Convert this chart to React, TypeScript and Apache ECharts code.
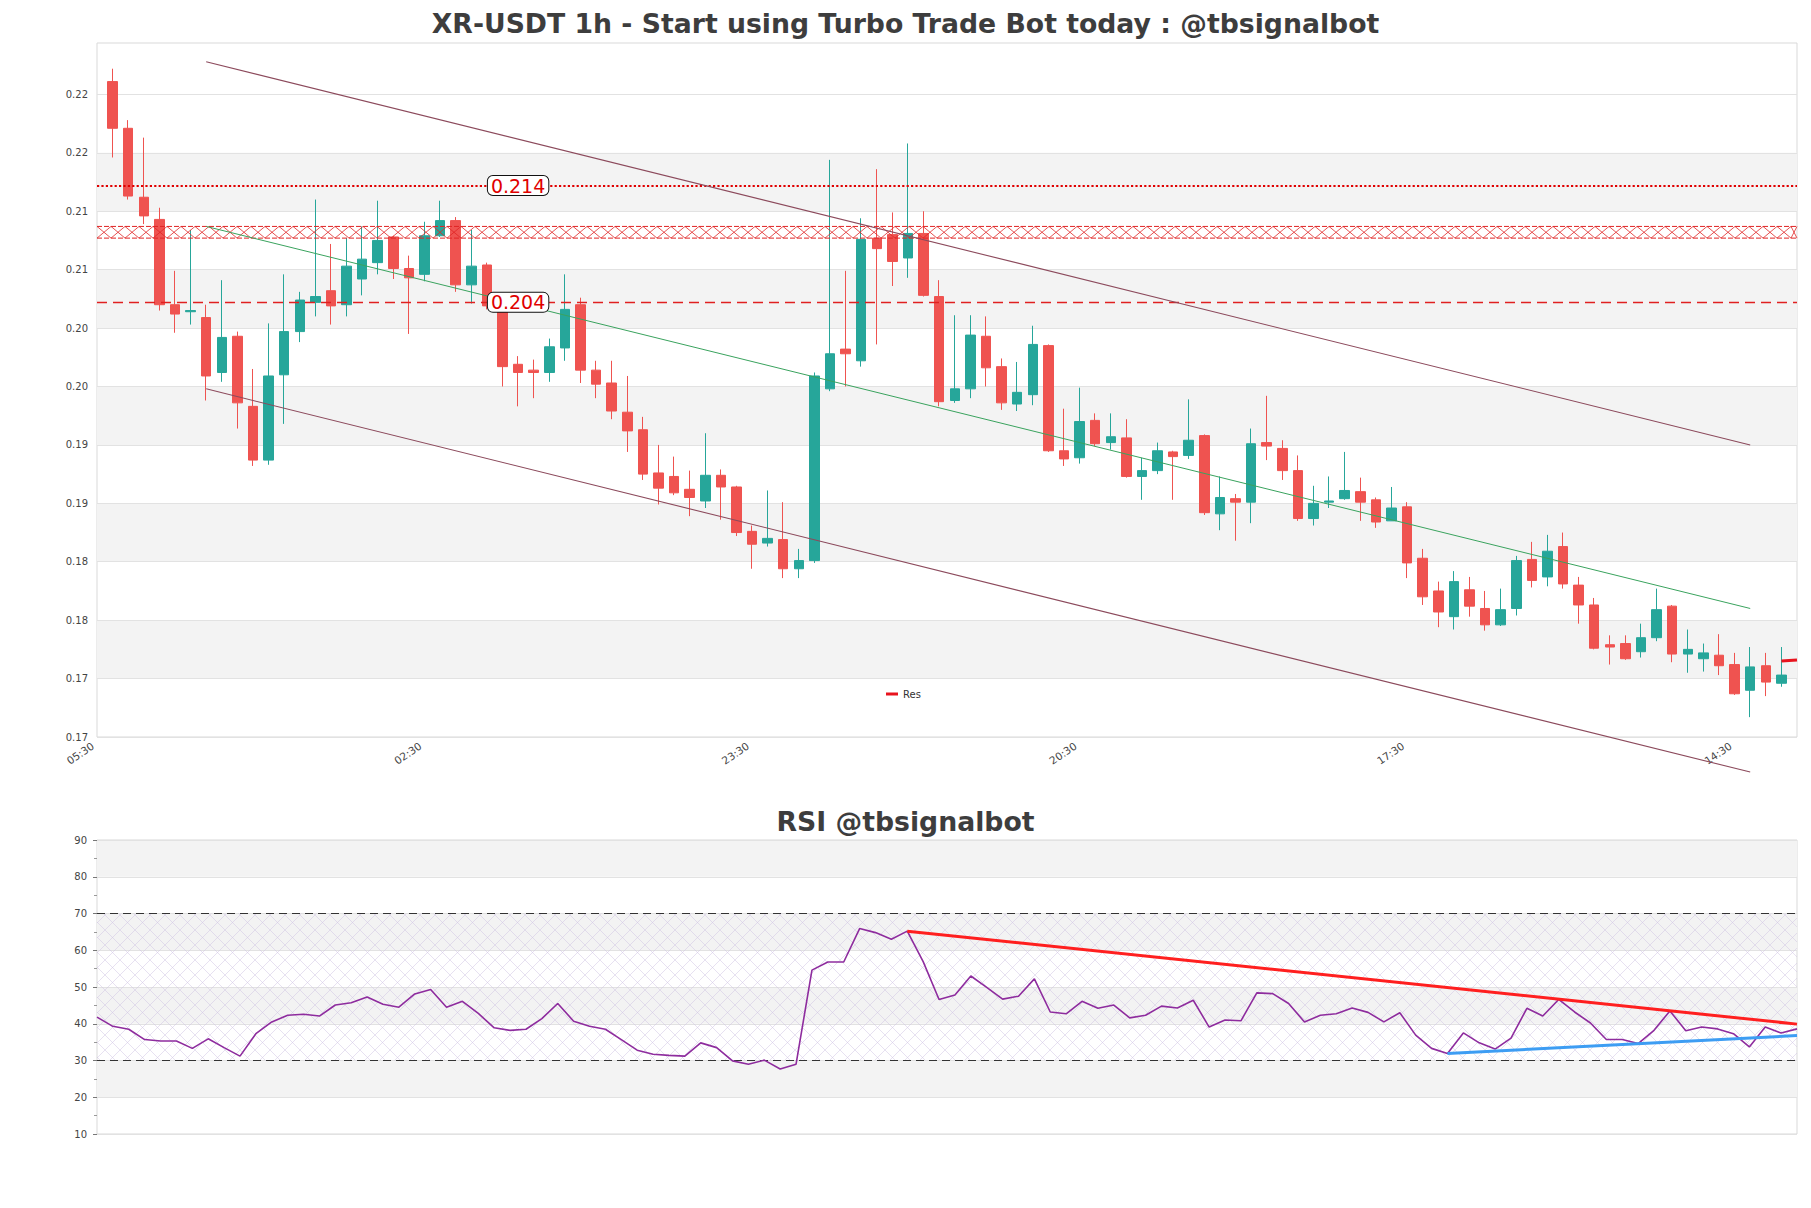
import React, { useEffect, useRef } from "react";
import * as echarts from "echarts";

// ---------- data ----------
const FIRST_HOUR = 5; // first slot is 05:30
const SLOT_COUNT = 110;
const timeLabels = Array.from(
  { length: SLOT_COUNT },
  (_, i) => String((FIRST_HOUR + i) % 24).padStart(2, "0") + ":30"
);
const FIRST_CANDLE_SLOT = 1;

const candleOpen = [
  0.2229, 0.2189, 0.213, 0.2111, 0.2038, 0.2032, 0.2027, 0.198, 0.2011, 0.1951,
  0.1905, 0.1978, 0.2015, 0.204, 0.205, 0.2038, 0.206, 0.2074, 0.2096, 0.2069,
  0.2064, 0.2097, 0.211, 0.2055, 0.2072, 0.2038, 0.1987, 0.1982, 0.198, 0.2001,
  0.2038, 0.1982, 0.1971, 0.1946, 0.1931, 0.1894, 0.1891, 0.188, 0.187, 0.1892,
  0.1882, 0.1844, 0.1834, 0.1837, 0.1812, 0.1819, 0.1966, 0.2, 0.199, 0.2095,
  0.2098, 0.2078, 0.2099, 0.2045, 0.1956, 0.1966, 0.2011, 0.1985, 0.1953, 0.1961,
  0.2003, 0.1913, 0.1907, 0.1939, 0.192, 0.1924, 0.1891, 0.1896, 0.1912, 0.1909,
  0.1926, 0.1859, 0.1872, 0.1869, 0.192, 0.1915, 0.1896, 0.1855, 0.1869, 0.1872,
  0.1878, 0.1871, 0.1853, 0.1865, 0.1821, 0.1793, 0.1771, 0.1794, 0.1778, 0.1764,
  0.1778, 0.182, 0.1805, 0.1831, 0.1798, 0.1781, 0.1747, 0.1748, 0.1741, 0.1753,
  0.178, 0.1739, 0.1735, 0.1738, 0.173, 0.1708, 0.1729, 0.1714,
];
const candleClose = [
  0.2189, 0.2131, 0.2114, 0.2038, 0.203, 0.2033, 0.1977, 0.201, 0.1954, 0.1905,
  0.1977, 0.2015, 0.2042, 0.2045, 0.2037, 0.2071, 0.2077, 0.2093, 0.2069, 0.2061,
  0.2097, 0.211, 0.2055, 0.2071, 0.2037, 0.1985, 0.198, 0.198, 0.2002, 0.2034,
  0.1982, 0.197, 0.1947, 0.193, 0.1893, 0.1881, 0.1877, 0.1873, 0.1892, 0.1882,
  0.1843, 0.1833, 0.1838, 0.1812, 0.1819, 0.1977, 0.1996, 0.1996, 0.2094, 0.2086,
  0.2075, 0.2099, 0.2046, 0.1955, 0.1966, 0.2012, 0.1984, 0.1954, 0.1963, 0.2004,
  0.1913, 0.1906, 0.1938, 0.1919, 0.1925, 0.1891, 0.1896, 0.1913, 0.1908, 0.1922,
  0.186, 0.1873, 0.1869, 0.1919, 0.1917, 0.1896, 0.1855, 0.1868, 0.187, 0.1879,
  0.1869, 0.1852, 0.1864, 0.1817, 0.1788, 0.1775, 0.1801, 0.178, 0.1764, 0.1777,
  0.1819, 0.1802, 0.1827, 0.1799, 0.1781, 0.1744, 0.1745, 0.1735, 0.1753, 0.1777,
  0.1739, 0.1743, 0.174, 0.1729, 0.1705, 0.1728, 0.1715, 0.1721,
];
const candleLow = [
  0.2164, 0.2128, 0.2107, 0.2033, 0.2014, 0.2021, 0.1956, 0.1972, 0.1932, 0.19,
  0.1901, 0.1936, 0.2006, 0.2028, 0.2021, 0.2028, 0.2046, 0.2064, 0.206, 0.2013,
  0.2058, 0.2096, 0.2049, 0.2039, 0.2034, 0.1968, 0.1951, 0.1958, 0.1972, 0.199,
  0.1971, 0.1958, 0.194, 0.1912, 0.1888, 0.1867, 0.1875, 0.1857, 0.1864, 0.1854,
  0.184, 0.1812, 0.1831, 0.1804, 0.1804, 0.1817, 0.1964, 0.1968, 0.1985, 0.2004,
  0.2054, 0.2061, 0.2045, 0.1951, 0.1954, 0.1958, 0.1968, 0.1948, 0.1947, 0.1952,
  0.1912, 0.19, 0.1902, 0.1917, 0.1914, 0.189, 0.1871, 0.1893, 0.1871, 0.1906,
  0.1858, 0.1845, 0.1836, 0.1851, 0.1905, 0.1888, 0.1853, 0.1849, 0.1864, 0.1871,
  0.1853, 0.1847, 0.1853, 0.1804, 0.1781, 0.1762, 0.176, 0.1771, 0.1759, 0.1763,
  0.1772, 0.1796, 0.1797, 0.1795, 0.1765, 0.1743, 0.173, 0.1734, 0.1736, 0.175,
  0.1732, 0.1723, 0.1724, 0.1721, 0.1704, 0.1685, 0.1703, 0.1711,
];
const candleHigh = [
  0.224, 0.2196, 0.2181, 0.2121, 0.2067, 0.2102, 0.2038, 0.2059, 0.2015, 0.1983,
  0.2022, 0.2064, 0.2049, 0.2128, 0.209, 0.2095, 0.2105, 0.2127, 0.2097, 0.208,
  0.2109, 0.2127, 0.2113, 0.2102, 0.2074, 0.2042, 0.1994, 0.1991, 0.2009, 0.2064,
  0.2044, 0.199, 0.199, 0.1977, 0.1942, 0.1918, 0.1908, 0.1896, 0.1928, 0.1897,
  0.1883, 0.1849, 0.1879, 0.1869, 0.1829, 0.198, 0.2162, 0.2067, 0.2112, 0.2154,
  0.2117, 0.2176, 0.2118, 0.2059, 0.2029, 0.2029, 0.2028, 0.1992, 0.1989, 0.202,
  0.2004, 0.1949, 0.1967, 0.1945, 0.1945, 0.194, 0.1907, 0.192, 0.1913, 0.1957,
  0.1927, 0.1891, 0.1876, 0.1932, 0.196, 0.1922, 0.1909, 0.1883, 0.1891, 0.1912,
  0.189, 0.1873, 0.1882, 0.1869, 0.1829, 0.1801, 0.181, 0.1805, 0.1793, 0.1795,
  0.1823, 0.1835, 0.1841, 0.1843, 0.1805, 0.1787, 0.1755, 0.1755, 0.1765, 0.1795,
  0.1781, 0.176, 0.1748, 0.1756, 0.174, 0.1745, 0.174, 0.1745,
];

const rsiValues = [
  41.8, 39.3, 38.5, 35.7, 35.3, 35.3, 33.3, 35.9, 33.5, 31.2,
  37.3, 40.5, 42.3, 42.6, 42.1, 45.1, 45.7, 47.3, 45.3, 44.5,
  48.1, 49.3, 44.5, 46.1, 42.8, 38.9, 38.2, 38.5, 41.4, 45.5,
  40.7, 39.3, 38.5, 35.7, 32.8, 31.7, 31.4, 31.2, 34.8, 33.5,
  29.9, 29.0, 30.1, 27.7, 29.0, 54.6, 56.8, 56.8, 65.9, 64.8,
  63.0, 65.2, 56.9, 46.6, 47.8, 53.0, 49.9, 46.7, 47.5, 52.2,
  43.2, 42.7, 46.1, 44.2, 45.1, 41.6, 42.3, 44.8, 44.3, 46.4,
  39.1, 41.0, 40.8, 48.4, 48.2, 45.5, 40.5, 42.3, 42.7, 44.3,
  43.1, 40.5, 43.0, 36.9, 33.3, 31.9, 37.5, 34.8, 33.1, 36.1,
  44.2, 42.1, 46.6, 43.2, 40.2, 35.7, 35.7, 34.6, 38.2, 43.5,
  38.1, 39.1, 38.6, 37.3, 33.7, 39.1, 37.5, 38.6,
];

const priceTicks = [
  0.1668, 0.1718, 0.1768, 0.1818, 0.1868, 0.1918, 0.1968, 0.2018, 0.2068,
  0.2118, 0.2168, 0.2218,
];
const PRICE_MIN = 0.1668;
const PRICE_MAX = 0.2262;

const levelTop = 0.214;
const levelBottom = 0.204;
const levelLabelSlot = 27;
const zoneLow = 0.2095;
const zoneHigh = 0.2105;

const channelSlots = [7, 106];
const channelUpper = [0.2246, 0.1918];
const channelMid = [0.2105, 0.1778];
const channelLower = [0.1966, 0.1638];

const resSlots = [108, 109];
const resValues = [0.1733, 0.1734];

const rsiDownSlots = [51, 107];
const rsiDownValues = [65.2, 39.9];
const rsiUpSlots = [85, 107];
const rsiUpValues = [31.9, 36.8];
const rsiUpperBand = 70;
const rsiLowerBand = 30;

// ---------- styling ----------
const UP = "#26a69a";
const DOWN = "#ef5350";
const FONT = "DejaVu Sans";

const hatchSvg =
  "<svg xmlns='http://www.w3.org/2000/svg' width='15' height='15'><path d='M0 0L15 15M15 0L0 15' stroke='rgb(206,194,226)' stroke-width='0.5' fill='none'/></svg>";
const hatchPattern: any = {
  image: "data:image/svg+xml;charset=utf-8," + encodeURIComponent(hatchSvg),
  repeat: "repeat",
  imageWidth: 15,
  imageHeight: 15,
};

function pairs(xs: number[], ys: number[]) {
  return xs.map((x, i) => [x, ys[i]]);
}

export default function App() {
  const ref = useRef<HTMLDivElement>(null);

  useEffect(() => {
    if (!ref.current) return;
    const chart = echarts.init(ref.current, null, { renderer: "svg" });

    const candleData = candleOpen.map((o, k) => [
      k + FIRST_CANDLE_SLOT,
      o,
      candleClose[k],
      candleLow[k],
      candleHigh[k],
    ]);

    const titleStyle = {
      fontSize: 26.7,
      fontWeight: "bold",
      color: "#3d3d3d",
      fontFamily: FONT,
    };

    const option: any = {
      animation: false,
      backgroundColor: "#ffffff",
      textStyle: { fontFamily: FONT },
      title: [
        {
          text: "XR-USDT 1h - Start using Turbo Trade Bot today : @tbsignalbot",
          left: "center",
          top: 5,
          textStyle: titleStyle,
        },
        {
          text: "RSI @tbsignalbot",
          left: "center",
          top: 803,
          textStyle: titleStyle,
        },
      ],
      legend: {
        data: [{ name: "Res", icon: "rect" }],
        left: 881,
        top: 684,
        itemWidth: 12,
        itemHeight: 3,
        textStyle: { fontSize: 10, color: "#333", fontFamily: FONT },
      },
      grid: [
        {
          left: 97,
          right: 14,
          top: 43,
          height: 694,
          show: true,
          borderColor: "#d9d9d9",
          borderWidth: 1,
          backgroundColor: "transparent",
        },
        {
          left: 97,
          right: 14,
          top: 840,
          height: 294,
          show: true,
          borderColor: "#d9d9d9",
          borderWidth: 1,
          backgroundColor: "transparent",
        },
      ],
      xAxis: [
        {
          type: "category",
          gridIndex: 0,
          data: timeLabels,
          boundaryGap: false,
          axisLine: { show: false },
          axisTick: { show: false },
          splitLine: { show: false },
          axisLabel: {
            interval: 20,
            rotate: 34,
            fontSize: 10.5,
            color: "#444",
            margin: 5,
            padding: [0, 5, 0, 0],
          },
        },
        {
          type: "category",
          gridIndex: 1,
          data: timeLabels.slice(FIRST_CANDLE_SLOT, FIRST_CANDLE_SLOT + rsiValues.length),
          boundaryGap: false,
          axisLine: { show: false },
          axisTick: { show: false },
          axisLabel: { show: false },
          splitLine: { show: false },
        },
      ],
      yAxis: [
        {
          type: "value",
          gridIndex: 0,
          min: PRICE_MIN,
          max: PRICE_MAX,
          axisLine: { show: false },
          axisTick: { show: false, customValues: priceTicks },
          axisLabel: {
            customValues: priceTicks,
            formatter: (v: number) => v.toFixed(2),
            fontSize: 10,
            color: "#444",
            margin: 9,
          },
          splitLine: { show: true, lineStyle: { color: "#e2e2e2", width: 1 } },
          splitArea: {
            show: true,
            areaStyle: { color: ["rgba(255,255,255,0)", "#f3f3f3"] },
          },
        },
        {
          type: "value",
          gridIndex: 1,
          min: 10,
          max: 90,
          interval: 10,
          axisLine: { show: false },
          axisTick: { show: true, length: 4, lineStyle: { color: "#777" } },
          minorTick: {
            show: true,
            splitNumber: 2,
            length: 3,
            lineStyle: { color: "#999" },
          },
          axisLabel: { fontSize: 10, color: "#444", margin: 10 },
          splitLine: { show: true, lineStyle: { color: "#e2e2e2", width: 1 } },
          splitArea: {
            show: true,
            areaStyle: { color: ["rgba(255,255,255,0)", "#f3f3f3"] },
          },
        },
      ],
      series: [
        {
          type: "candlestick",
          name: "price",
          xAxisIndex: 0,
          yAxisIndex: 0,
          encode: { x: 0, y: [1, 2, 3, 4] },
          data: candleData,
          barWidth: 10,
          itemStyle: {
            color: UP,
            color0: DOWN,
            borderColor: UP,
            borderColor0: DOWN,
            borderWidth: 1,
          },
          z: 3,
        },
        {
          type: "custom",
          name: "zone",
          xAxisIndex: 0,
          yAxisIndex: 0,
          silent: true,
          encode: { x: [0, 1], y: [2, 3] },
          data: [[0, SLOT_COUNT - 1, zoneLow, zoneHigh]],
          z: 4,
          renderItem: (params: any, api: any) => {
            const pTop = api.coord([api.value(0), api.value(3)]);
            const pBot = api.coord([api.value(1), api.value(2)]);
            const x0 = pTop[0];
            const x1 = pBot[0];
            const yTop = pTop[1];
            const yBot = pBot[1];
            const half = 14;
            const a: number[][] = [];
            const b: number[][] = [];
            let k = 0;
            for (let x = x0; x < x1 + half; x += half, k++) {
              const xx = Math.min(x, x1);
              a.push([xx, k % 2 === 0 ? yTop : yBot]);
              b.push([xx, k % 2 === 0 ? yBot : yTop]);
              if (xx >= x1) break;
            }
            const stroke = "#e02424";
            return {
              type: "group",
              children: [
                {
                  type: "polyline",
                  shape: { points: a },
                  style: { stroke, lineWidth: 0.8, fill: null },
                },
                {
                  type: "polyline",
                  shape: { points: b },
                  style: { stroke, lineWidth: 0.8, fill: null },
                },
                {
                  type: "line",
                  shape: { x1: x0, y1: yTop, x2: x1, y2: yTop },
                  style: { stroke, lineWidth: 1, lineDash: [5, 2] },
                },
                {
                  type: "line",
                  shape: { x1: x0, y1: yBot, x2: x1, y2: yBot },
                  style: { stroke, lineWidth: 1, lineDash: [5, 2] },
                },
              ],
            };
          },
        },
        {
          type: "line",
          name: "channelUpper",
          xAxisIndex: 0,
          yAxisIndex: 0,
          data: pairs(channelSlots, channelUpper),
          showSymbol: false,
          symbol: "none",
          clip: false,
          silent: true,
          lineStyle: { color: "#8c4a5c", width: 1.1 },
          z: 5,
        },
        {
          type: "line",
          name: "channelMid",
          xAxisIndex: 0,
          yAxisIndex: 0,
          data: pairs(channelSlots, channelMid),
          showSymbol: false,
          symbol: "none",
          clip: false,
          silent: true,
          lineStyle: { color: "#3aa35e", width: 1 },
          z: 5,
        },
        {
          type: "line",
          name: "channelLower",
          xAxisIndex: 0,
          yAxisIndex: 0,
          data: pairs(channelSlots, channelLower),
          showSymbol: false,
          symbol: "none",
          clip: false,
          silent: true,
          lineStyle: { color: "#8c4a5c", width: 1.1 },
          z: 5,
        },
        {
          type: "scatter",
          name: "levels",
          xAxisIndex: 0,
          yAxisIndex: 0,
          data: [
            [levelLabelSlot, levelTop],
            [levelLabelSlot, levelBottom],
          ],
          symbolSize: 1,
          itemStyle: { color: "rgba(0,0,0,0)" },
          silent: true,
          z: 8,
          label: {
            show: true,
            position: "inside",
            formatter: (p: any) => Number(p.value[1]).toFixed(3),
            color: "#e00000",
            fontSize: 19,
            fontFamily: FONT,
            backgroundColor: "#ffffff",
            borderColor: "#111",
            borderWidth: 1,
            borderRadius: 5,
            padding: [0, 3, 0, 3],
            opacity: 1,
          },
          markLine: {
            silent: true,
            symbol: "none",
            precision: 5,
            label: { show: false },
            data: [
              {
                yAxis: levelTop,
                lineStyle: { color: "#e00000", type: "dotted", width: 2.2 },
              },
              {
                yAxis: levelBottom,
                lineStyle: { color: "#e02020", type: [10, 6], width: 1.3 },
              },
            ],
          },
        },
        {
          type: "line",
          name: "Res",
          xAxisIndex: 0,
          yAxisIndex: 0,
          data: pairs(resSlots, resValues),
          showSymbol: false,
          symbol: "none",
          clip: false,
          lineStyle: { color: "#e8141e", width: 3 },
          itemStyle: { color: "#e8141e" },
          z: 6,
        },
        {
          type: "line",
          name: "RSI",
          xAxisIndex: 1,
          yAxisIndex: 1,
          data: rsiValues,
          showSymbol: false,
          symbol: "none",
          lineStyle: { color: "#8e2c9e", width: 1.6 },
          z: 5,
          markArea: {
            silent: true,
            itemStyle: { color: hatchPattern },
            data: [[{ yAxis: rsiLowerBand }, { yAxis: rsiUpperBand }]],
          },
          markLine: {
            silent: true,
            symbol: "none",
            label: { show: false },
            lineStyle: { color: "#333", type: [8, 5], width: 1.2 },
            data: [{ yAxis: rsiUpperBand }, { yAxis: rsiLowerBand }],
          },
        },
        {
          type: "line",
          name: "rsiDown",
          xAxisIndex: 1,
          yAxisIndex: 1,
          data: pairs(rsiDownSlots, rsiDownValues),
          showSymbol: false,
          symbol: "none",
          silent: true,
          lineStyle: { color: "#ff1f1f", width: 3 },
          z: 6,
        },
        {
          type: "line",
          name: "rsiUp",
          xAxisIndex: 1,
          yAxisIndex: 1,
          data: pairs(rsiUpSlots, rsiUpValues),
          showSymbol: false,
          symbol: "none",
          silent: true,
          lineStyle: { color: "#3d9df3", width: 3 },
          z: 6,
        },
      ],
    };

    chart.setOption(option);
    return () => chart.dispose();
  }, []);

  return (
    <div
      ref={ref}
      style={{
        position: "fixed",
        left: 0,
        top: 0,
        width: 1811,
        height: 1208,
        background: "#fff",
      }}
    />
  );
}
